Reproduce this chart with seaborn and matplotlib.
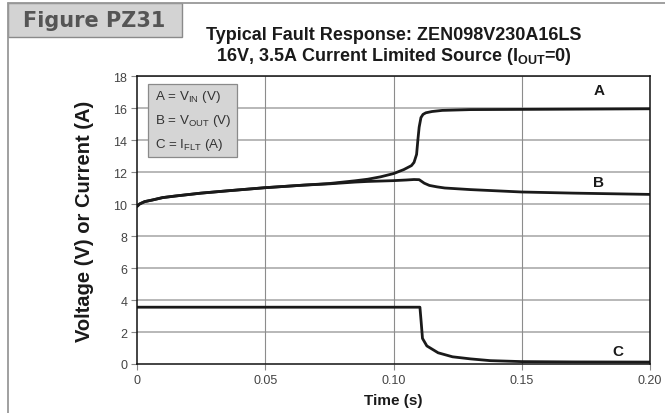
import numpy as np
import pandas as pd
import matplotlib
matplotlib.use("Agg")
import matplotlib.pyplot as plt
from matplotlib.patches import Rectangle
from matplotlib.lines import Line2D
from matplotlib import font_manager
import seaborn as sns

# ---- data ----
t_a = [0.0, 0.001, 0.003, 0.006, 0.01, 0.015, 0.025, 0.035, 0.05, 0.065, 0.075, 0.085, 0.09, 0.095,
       0.1, 0.104, 0.107, 0.108, 0.109, 0.1095, 0.110, 0.1107, 0.1115, 0.1126, 0.115, 0.119, 0.13,
       0.16, 0.2]
v_a = [9.85, 10.0, 10.15, 10.25, 10.4, 10.5, 10.68, 10.82, 11.02, 11.18, 11.28, 11.45, 11.55, 11.7,
       11.9, 12.15, 12.4, 12.6, 13.1, 14.0, 14.8, 15.4, 15.6, 15.7, 15.78, 15.85, 15.9,
       15.92, 15.95]

t_b = [0.0, 0.001, 0.003, 0.006, 0.01, 0.015, 0.025, 0.035, 0.05, 0.065, 0.075, 0.085, 0.09,
       0.1, 0.105, 0.108, 0.110, 0.112, 0.114, 0.117, 0.12, 0.13, 0.15, 0.17, 0.2]
v_b = [9.85, 10.0, 10.15, 10.25, 10.4, 10.5, 10.68, 10.82, 11.02, 11.18, 11.26, 11.37, 11.41,
       11.46, 11.5, 11.53, 11.52, 11.3, 11.16, 11.07, 11.0, 10.9, 10.75, 10.68, 10.6]

t_c = [0.0, 0.05, 0.1, 0.1103, 0.1108, 0.1113, 0.113, 0.1174, 0.123, 0.13, 0.1377, 0.15, 0.17, 0.2]
v_c = [3.55, 3.55, 3.55, 3.55, 2.6, 1.6, 1.13, 0.7, 0.45, 0.32, 0.21, 0.15, 0.13, 0.12]

curve_labels = ["A", "B", "C"]
legend_lines = [r"A = V$_{\mathregular{IN}}$ (V)",
                r"B = V$_{\mathregular{OUT}}$ (V)",
                r"C = I$_{\mathregular{FLT}}$ (A)"]
x_ticks = [0, 0.05, 0.10, 0.15, 0.20]
x_ticklabels = ["0", "0.05", "0.10", "0.15", "0.20"]
y_ticks = list(range(0, 19, 2))

df = pd.concat([
    pd.DataFrame({"t": t_a, "v": v_a, "s": "A"}),
    pd.DataFrame({"t": t_b, "v": v_b, "s": "B"}),
    pd.DataFrame({"t": t_c, "v": v_c, "s": "C"}),
], ignore_index=True)

sns.set_theme(style="white")
plt.rcParams["font.family"] = ["Liberation Sans", "DejaVu Sans"]
plt.rcParams["mathtext.fontset"] = "custom"
plt.rcParams["mathtext.rm"] = "Liberation Sans"
plt.rcParams["mathtext.bf"] = "Liberation Sans:bold"

# condensed title face if present
names = {f.name for f in font_manager.fontManager.ttflist}
narrow = "Liberation Sans Narrow" in names
title_family = ["Liberation Sans Narrow"] if narrow else ["Liberation Sans"]
title_size = 15.5 if narrow else 13

W, H = 665, 414
fig = plt.figure(figsize=(W / 100, H / 100), dpi=100)
ax = fig.add_axes([137 / W, 1 - 365 / H, (650 - 137) / W, (365 - 77) / H])

sns.lineplot(data=df, x="t", y="v", units="s", estimator=None, color="#1a1a1a",
             lw=2.0, ax=ax, legend=False, sort=False)

ax.set_xlim(0, 0.2)
ax.set_ylim(0, 18)
ax.set_xticks(x_ticks)
ax.set_xticklabels(x_ticklabels)
ax.set_yticks(y_ticks)
ax.set_xlabel("")
ax.set_ylabel("")
ax.tick_params(axis="both", direction="out", length=4, width=0.8, color="#888888",
               labelsize=9, labelcolor="#444444", pad=3, left=True, bottom=True)
for sp in ax.spines.values():
    sp.set_color("#111111")
    sp.set_linewidth(1.1)

for y in y_ticks[1:]:
    ax.axhline(y, color="#b8b8b8", lw=1.4, zorder=0)
for x in x_ticks[1:-1]:
    ax.axvline(x, color="#8c8c8c", lw=0.8, zorder=0)

# curve labels
for lab, (xx, yy) in zip(curve_labels, [(0.18, 17.1), (0.18, 11.4), (0.1875, 0.8)]):
    ax.text(xx, yy, lab, fontsize=11, fontweight="bold", color="#1a1a1a",
            ha="center", va="center")

# legend box
ax.add_patch(Rectangle((148 / W, 1 - 158 / H), (237 - 148) / W, (158 - 85) / H,
                       transform=fig.transFigure, facecolor="#d5d5d5", edgecolor="#8a8a8a",
                       lw=0.9, zorder=5))
for i, s in enumerate(legend_lines):
    fig.text(155 / W, 1 - (97 + i * 24) / H, s, fontsize=9.6, color="#333333",
             ha="left", va="center", zorder=6)

# outer frame and figure tag
fig.add_artist(Line2D([8 / W, 8 / W], [0, 1 - 4 / H], color="#999999", lw=1.3))
fig.add_artist(Line2D([8 / W, 1], [1 - 4 / H, 1 - 4 / H], color="#999999", lw=1.3))
fig.add_artist(Rectangle((8 / W, 1 - 38 / H), (182 - 8) / W, (38 - 4) / H,
                         transform=fig.transFigure, facecolor="#d3d3d3",
                         edgecolor="#8a8a8a", lw=1.0))
fig.text(94 / W, 1 - 21 / H, "Figure PZ31", fontsize=15, fontweight="bold",
         color="#555555", ha="center", va="center", family=["DejaVu Sans"])

# titles
if narrow:
    plt.rcParams["mathtext.bf"] = "Liberation Sans Narrow:bold"
fig.text(393.5 / W, 1 - 35 / H, "Typical Fault Response: ZEN098V230A16LS",
         fontsize=title_size, fontweight="bold", color="#1a1a1a", ha="center", va="center",
         family=title_family)
fig.text(393.5 / W, 1 - 57 / H,
         r"16V, 3.5A Current Limited Source (I$_{\mathbf{OUT}}$=0)",
         fontsize=title_size, fontweight="bold", color="#1a1a1a", ha="center", va="center",
         family=title_family)

fig.text(84 / W, 1 - 221 / H, "Voltage (V) or Current (A)", rotation=90, fontsize=14.5,
         fontweight="bold", color="#1a1a1a", ha="center", va="center")
fig.text(393.5 / W, 1 - 401 / H, "Time (s)", fontsize=11, fontweight="bold",
         color="#1a1a1a", ha="center", va="center")

fig.savefig("out.png", dpi=100)
